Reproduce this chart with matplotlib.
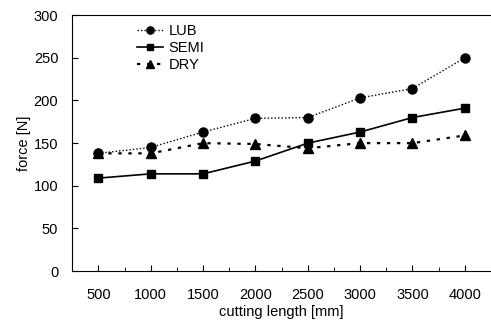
import numpy as np
import matplotlib
matplotlib.use("Agg")
import matplotlib.pyplot as plt
from matplotlib.ticker import MultipleLocator

plt.rcParams["font.family"] = ["Liberation Sans", "DejaVu Sans"]

length = [500, 1000, 1500, 2000, 2500, 3000, 3500, 4000]
lub = [138, 145, 163, 179, 180, 203, 214, 250]
semi = [109, 114, 114, 129, 150, 163, 180, 191]
dry = [138, 138, 150, 149, 144, 150, 150, 159]

fig = plt.figure(figsize=(4.91, 3.22), dpi=100)
ax = fig.add_axes([0.147, 0.158, 0.853, 0.795])

ax.plot(length, lub, color="black", linestyle=(0, (1, 1.5)), linewidth=1,
        marker="o", markersize=6.5, label="LUB")
ax.plot(length, semi, color="black", linestyle="-", linewidth=1.2,
        marker="s", markersize=6, label="SEMI")
ax.plot(length, dry, color="black", linestyle=(0, (1.5, 3)), linewidth=1.6,
        marker="^", markersize=6.5, label="DRY")

ax.set_xlim(250, 4250)
ax.set_ylim(0, 300)
ax.set_xticks(length)
ax.xaxis.set_minor_locator(MultipleLocator(250))
ax.yaxis.set_major_locator(MultipleLocator(50))
ax.tick_params(direction="in", length=4)
ax.tick_params(axis="y", labelsize=10.5, pad=10)
ax.tick_params(axis="x", which="minor", direction="in", length=3)
ax.tick_params(axis="x", labelsize=10.5, pad=12)
ax.spines["right"].set_visible(False)
ax.set_xlabel("cutting length [mm]", fontsize=10.5, labelpad=2)
ax.set_ylabel("force [N]", fontsize=10.5, labelpad=2)

ax.legend(loc="upper left", bbox_to_anchor=(0.155, 0.965), frameon=False,
          fontsize=10.5, handlelength=1.8, handletextpad=0.35,
          labelspacing=0.2, borderpad=0, borderaxespad=0, markerscale=0.8)

fig.savefig("out.png", dpi=100)
